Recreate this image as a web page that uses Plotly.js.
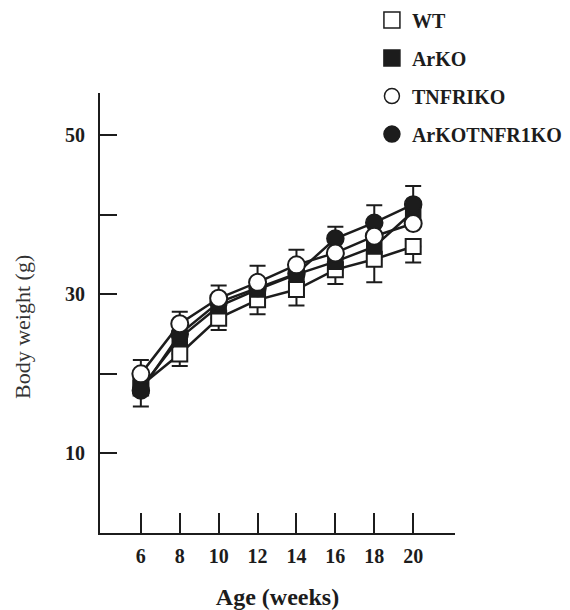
<!DOCTYPE html>
<html>
<head>
<meta charset="utf-8">
<script src="https://cdn.plot.ly/plotly-3.0.1.min.js"></script>
<style>html,body{margin:0;padding:0;background:#fff;}#chart{width:570px;height:610px;}</style>
</head>
<body>
<div id="chart"></div>
<script>
// Data
const weeks = [6, 8, 10, 12, 14, 16, 18, 20];
const seriesNames = ['WT', 'ArKO', 'TNFRIKO', 'ArKOTNFR1KO'];
const wt          = [18.5, 22.5, 27.0, 29.3, 30.6, 33.1, 34.4, 36.0];
const arko        = [18.2, 24.5, 28.5, 30.6, 32.5, 34.1, 36.0, 40.4];
const tnfriko     = [20.0, 26.3, 29.5, 31.5, 33.7, 35.2, 37.3, 38.9];
const arkotnfr1ko = [17.9, 25.0, 29.0, 30.8, 32.6, 37.0, 39.0, 41.3];
// error bar lengths (only the visible halves)
const wtErrMinus   = [0, 1.5, 1.5, 1.8, 2.0, 1.8, 2.9, 2.0];
const tnfErrPlus   = [1.75, 1.5, 1.6, 2.1, 1.9, 0, 0, 0];
const dkoErrPlus   = [0, 0, 0, 0, 0, 1.5, 2.2, 2.3];
const dkoErrMinus  = [2.0, 0, 0, 0, 0, 0, 0, 0];
const yTickVals = [10, 20, 30, 40, 50];
const yTickText = ['10', '', '30', '', '50'];

const ink = '#1c1c1c';
const lineStyle = {color: ink, width: 2.5};

function err(plus, minus) {
  return {type: 'data', symmetric: false, array: plus, arrayminus: minus,
          color: ink, thickness: 2, width: 8};
}
const zeros = weeks.map(() => 0);

const traces = [
  {x: weeks, y: wt, mode: 'lines+markers', showlegend: false, line: lineStyle,
   marker: {symbol: 'square', size: 15, color: '#fff', line: {color: ink, width: 2}},
   error_y: err(zeros, wtErrMinus)},
  {x: weeks, y: arko, mode: 'lines+markers', showlegend: false, line: lineStyle,
   marker: {symbol: 'square', size: 15, color: ink, line: {color: ink, width: 1.5}}},
  {x: weeks, y: arkotnfr1ko, mode: 'lines+markers', showlegend: false, line: lineStyle,
   marker: {symbol: 'circle', size: 17, color: ink, line: {color: ink, width: 1.5}},
   error_y: err(dkoErrPlus, dkoErrMinus)},
  {x: weeks, y: tnfriko, mode: 'lines+markers', showlegend: false, line: lineStyle,
   marker: {symbol: 'circle', size: 17, color: '#fff', line: {color: ink, width: 2}},
   error_y: err(tnfErrPlus, zeros)}
];

// legend-only entries (marker symbols, no line)
const legendMarkers = [
  {symbol: 'square', size: 16, color: '#fff', line: {color: ink, width: 1.5}},
  {symbol: 'square', size: 16, color: ink, line: {color: ink, width: 1.5}},
  {symbol: 'circle', size: 15, color: '#fff', line: {color: ink, width: 1.5}},
  {symbol: 'circle', size: 18, color: ink, line: {color: ink, width: 1.5}}
];
seriesNames.forEach((n, i) => {
  traces.push({x: [null], y: [null], mode: 'markers', name: n, legendgroup: 'g' + i,
               marker: legendMarkers[i], hoverinfo: 'skip'});
});

const serif = '"Liberation Serif", "DejaVu Serif", serif';
const layout = {
  width: 570, height: 610,
  margin: {l: 100, r: 115, t: 93, b: 77, autoexpand: false},
  paper_bgcolor: '#fff', plot_bgcolor: '#fff',
  font: {family: serif, color: ink},
  showlegend: true,
  legend: {x: 0.766, xanchor: 'left', y: 1.21, yanchor: 'top',
           font: {family: serif, size: 20, color: ink, weight: 'bold'},
           traceorder: 'grouped', tracegroupgap: 9, bgcolor: 'rgba(0,0,0,0)'},
  xaxis: {range: [3.9, 22.15], tickvals: weeks, ticks: 'inside', ticklen: 20, tickwidth: 2,
          tickcolor: ink, showline: true, linewidth: 2, linecolor: ink, showgrid: false,
          zeroline: false, fixedrange: true, ticklabelstandoff: 4,
          tickfont: {family: serif, size: 20, color: ink, weight: 'bold'},
          title: {text: 'Age (weeks)', standoff: 24,
                  font: {family: serif, size: 24, color: ink, weight: 'bold'}}},
  yaxis: {range: [0, 55.3], tickvals: yTickVals, ticktext: yTickText, ticks: 'inside',
          ticklen: 17, tickwidth: 2, tickcolor: ink, showline: true, linewidth: 2,
          linecolor: ink, showgrid: false, zeroline: false, fixedrange: true,
          ticklabelstandoff: 9,
          tickfont: {family: serif, size: 20, color: ink, weight: 'bold'}},
  annotations: [{text: 'Body weight (g)', textangle: -90, xref: 'paper', yref: 'paper',
                 x: -0.22, y: 0.468, xanchor: 'center', yanchor: 'middle', showarrow: false,
                 font: {family: serif, size: 22, color: '#333'}}]
};

Plotly.newPlot('chart', traces, layout, {staticPlot: true, displayModeBar: false});
</script>
</body>
</html>
